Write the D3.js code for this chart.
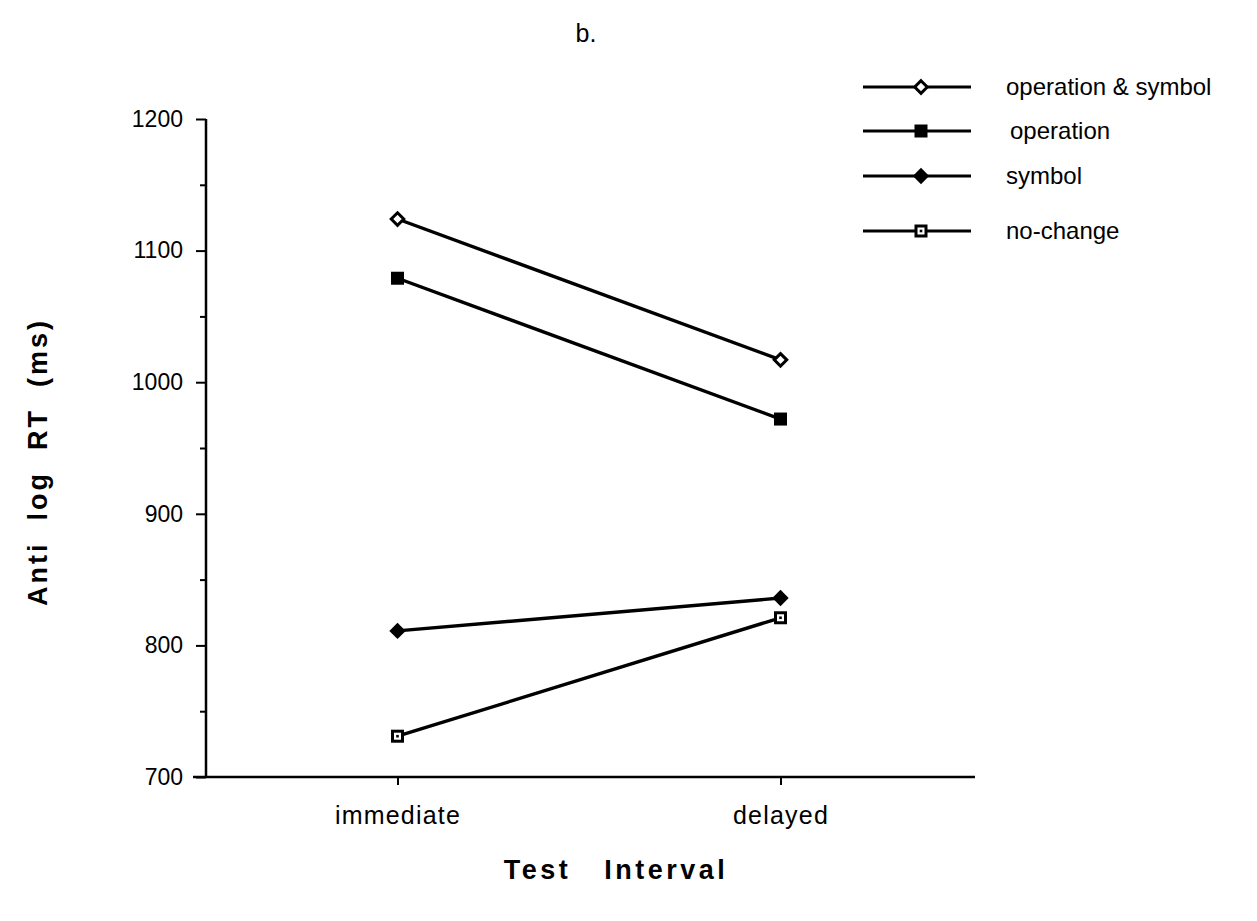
<!DOCTYPE html>
<html>
<head>
<meta charset="utf-8">
<script src="https://cdn.jsdelivr.net/npm/d3@7"></script>
<style>
  html, body { margin: 0; padding: 0; background: #fff; }
  svg { display: block; }
  text { font-family: "Liberation Sans", Arial, Helvetica, sans-serif; fill: #000; }
</style>
</head>
<body>
<svg id="chart" width="1257" height="921"></svg>
<script>
// Test intervals on the x axis
const categories = ["immediate", "delayed"];

// Mean anti-log reaction times (ms) per condition
const seriesNames = ["operation & symbol", "operation", "symbol", "no-change"];
const opSymbol  = [1124, 1017];
const operation = [1079, 972];
const symbol    = [811, 836];
const noChange  = [731, 821];

// Y axis labelled and minor tick values
const yMajorTicks = [700, 800, 900, 1000, 1100, 1200];
const yMinorTicks = [750, 850, 950, 1050, 1150];

const series = [
  { name: seriesNames[0], values: opSymbol,  marker: "diamondOpen" },
  { name: seriesNames[1], values: operation, marker: "squareFilled" },
  { name: seriesNames[2], values: symbol,    marker: "diamondFilled" },
  { name: seriesNames[3], values: noChange,  marker: "squareOpen" }
];

const svg = d3.select("#chart");

const x = d3.scalePoint().domain(categories).range([206, 972]).padding(0.5);
const y = d3.scaleLinear().domain([700, 1200]).range([777, 119]);

// Y axis with outward ticks
const yAxis = svg.append("g").attr("transform", "translate(206,0)")
  .call(d3.axisLeft(y).tickValues(yMajorTicks).tickSize(10).tickPadding(13)
        .tickFormat(d3.format("d")));
yAxis.select(".domain").attr("stroke", "#000").attr("stroke-width", 2.5).attr("d", `M0,${y(1200)}V${y(700)}`);
yAxis.selectAll(".tick line").attr("stroke", "#000").attr("stroke-width", 2);
yAxis.selectAll(".tick text").style("font-size", "23px").attr("font-family", null);

svg.append("g").attr("transform", "translate(206,0)")
  .call(d3.axisLeft(y).tickValues(yMinorTicks).tickSize(6).tickFormat(""))
  .call(g => g.select(".domain").remove())
  .selectAll(".tick line").attr("stroke", "#000").attr("stroke-width", 2);

// X axis
const xAxis = svg.append("g").attr("transform", `translate(0,${y(700)})`)
  .call(d3.axisBottom(x).tickSize(8).tickPadding(0));
xAxis.select(".domain").attr("stroke", "#000").attr("stroke-width", 2.5).attr("d", "M193,0H975");
xAxis.selectAll(".tick line").attr("stroke", "#000").attr("stroke-width", 2);
xAxis.selectAll(".tick text").attr("dy", null).attr("y", 47)
  .style("font-size", "25px").style("letter-spacing", "1.2px").attr("font-family", null);

// Marker drawing
function drawMarker(g, type, cx, cy) {
  if (type === "diamondOpen") {
    g.append("path").attr("d", d3.symbol(d3.symbolDiamond2, 100)())
      .attr("transform", `translate(${cx},${cy})`)
      .attr("fill", "#fff").attr("stroke", "#000").attr("stroke-width", 3);
  } else if (type === "diamondFilled") {
    g.append("path").attr("d", d3.symbol(d3.symbolDiamond2, 170)())
      .attr("transform", `translate(${cx},${cy})`)
      .attr("fill", "#000");
  } else if (type === "squareFilled") {
    g.append("rect").attr("x", cx - 6.5).attr("y", cy - 6.5).attr("width", 13).attr("height", 13)
      .attr("fill", "#000");
  } else if (type === "squareOpen") {
    g.append("rect").attr("x", cx - 5).attr("y", cy - 5).attr("width", 10).attr("height", 10)
      .attr("fill", "#fff").attr("stroke", "#000").attr("stroke-width", 3);
    g.append("rect").attr("x", cx - 1.3).attr("y", cy - 1.3).attr("width", 2.6).attr("height", 2.6)
      .attr("fill", "#000");
  }
}

// Lines and markers
const line = d3.line().x((d, i) => x(categories[i])).y(d => y(d));
const plot = svg.append("g");
series.forEach(s => {
  plot.append("path").datum(s.values).attr("d", line)
    .attr("fill", "none").attr("stroke", "#000").attr("stroke-width", 3.4);
  s.values.forEach((v, i) => drawMarker(plot, s.marker, x(categories[i]), y(v)));
});

// Legend
const legendY = [87, 131, 176, 231];
const legendTextX = [1006, 1010, 1006, 1006];
const legend = svg.append("g");
series.forEach((s, i) => {
  legend.append("line").attr("x1", 863).attr("x2", 971)
    .attr("y1", legendY[i]).attr("y2", legendY[i])
    .attr("stroke", "#000").attr("stroke-width", 3);
  drawMarker(legend, s.marker, 921, legendY[i]);
  legend.append("text").attr("x", legendTextX[i]).attr("y", legendY[i])
    .attr("dy", "0.35em").style("font-size", "24px").text(s.name);
});

// Titles
svg.append("text").attr("x", 586).attr("y", 42).attr("text-anchor", "middle")
  .style("font-size", "25px").text("b.");

svg.append("text").attr("x", 616).attr("y", 879).attr("text-anchor", "middle")
  .style("font-size", "27px").style("font-weight", "bold").style("letter-spacing", "3.5px")
  .style("white-space", "pre").text("Test   Interval");

svg.append("text").attr("transform", "translate(47,462) rotate(-90)")
  .attr("text-anchor", "middle")
  .style("font-size", "27px").style("font-weight", "bold").style("letter-spacing", "3px")
  .style("white-space", "pre").text("Anti  log  RT  (ms)");
</script>
</body>
</html>
